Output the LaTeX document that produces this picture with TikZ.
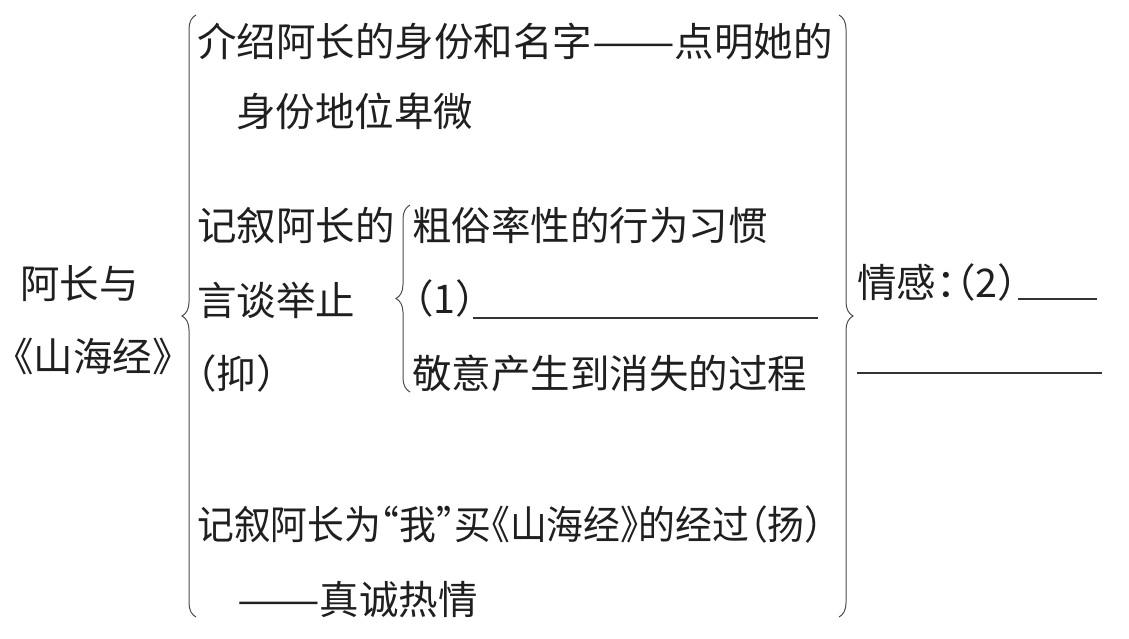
\documentclass[tikz,border=0pt]{standalone}
\usepackage{fontspec}
\newfontfamily\cjk[RawFeature=+halt]{Noto Sans CJK SC}
\usetikzlibrary{decorations.pathreplacing}
\newcommand{\longdash}{\scalebox{1.25}[1]{——}}
\begin{document}
\begin{tikzpicture}[x=1pt,y=-1pt,
  txt/.style={font=\cjk\fontsize{39.5}{40}\selectfont, inner sep=0pt, anchor=west,
    text=black!88, text height=34pt, text depth=5pt},
  brc/.style={decorate, decoration={brace, amplitude=14pt}, draw=black!70, line width=1pt},
  blank/.style={draw=black!80, line width=1.1pt}]
\useasboundingbox (0,0) rectangle (1129,639);
% left label
\node[txt] (t1) at (20,284) {阿长与};
\node[txt, inner xsep=3pt] (t2) at (11,357) {《山海经》};
% braces
\coordinate (b1s) at (196,617);
\coordinate (b1e) at (196,15);
\draw[brc] (b1s) -- (b1e);
\coordinate (b2s) at (410,392);
\coordinate (b2e) at (410,205);
\draw[brc] (b2s) -- (b2e);
\coordinate (b3s) at (839,15);
\coordinate (b3e) at (839,617);
\draw[brc] (b3s) -- (b3e);
% main column
\node[txt] (l1) at (197,42) {介绍阿长的身份和名字\longdash 点明她的};
\node[txt] (l2) at (236,112) {身份地位卑微};
\node[txt] (l3) at (197,226) {记叙阿长的};
\node[txt] (l4) at (197,301) {言谈举止};
\node[txt] (l5) at (197,374) {（抑）};
\node[txt] (l6) at (197,525) {\scalebox{0.932}[1]{记叙阿长为“我”买《山海经》的经过（扬）}};
\node[txt] (l7) at (237,600) {\longdash 真诚热情};
% middle column
\node[txt] (m1) at (412,226) {粗俗率性的行为习惯};
\node[txt] (m2) at (414,299) {（1）};
\node[txt] (m3) at (412,374) {敬意产生到消失的过程};
\coordinate (u1a) at (473,318);
\coordinate (u1b) at (818,318);
\draw[blank] (u1a) -- (u1b);
% right column
\node[txt] (r1) at (857,283) {情感：（2）};
\coordinate (u2a) at (1018,299);
\coordinate (u2b) at (1097,299);
\draw[blank] (u2a) -- (u2b);
\coordinate (u3a) at (857,373);
\coordinate (u3b) at (1102,373);
\draw[blank] (u3a) -- (u3b);
\end{tikzpicture}
\end{document}
